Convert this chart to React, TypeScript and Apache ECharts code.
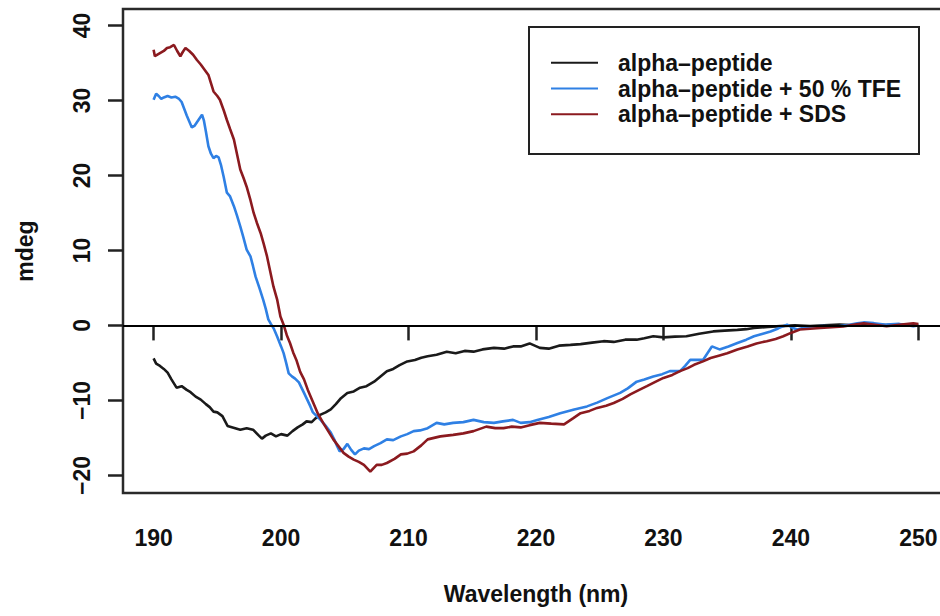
import React, { useEffect, useRef } from "react";
import * as echarts from "echarts";

const seriesNames = ["alpha–peptide", "alpha–peptide + 50 % TFE", "alpha–peptide + SDS"];
const seriesColors = ["#1a1a1a", "#2f80e4", "#8b1a1f"];

const xTicks = [190, 200, 210, 220, 230, 240, 250];
const yTicks = [-20, -10, 0, 10, 20, 30, 40];

const peptide: number[][] = [
  [190.0, -4.4], [190.2, -5.1], [190.5, -5.4], [190.8, -5.8], [191.1, -6.3], [191.4, -7.2], [191.8, -8.3],
  [192.2, -8.1], [192.6, -8.6], [192.9, -8.9], [193.3, -9.5], [193.7, -9.9], [194.1, -10.5], [194.4, -10.9],
  [194.7, -11.5], [195.0, -11.6], [195.4, -12.1], [195.8, -13.4], [196.2, -13.6], [196.8, -13.9], [197.3, -13.7],
  [197.8, -13.9], [198.2, -14.6], [198.5, -15.1], [198.8, -14.7], [199.2, -14.4], [199.6, -14.8], [200.0, -14.5],
  [200.5, -14.7], [200.9, -14.1], [201.3, -13.6], [201.7, -13.2], [202.0, -12.8], [202.4, -12.9], [202.7, -12.4],
  [203.1, -11.9], [203.5, -11.6], [203.9, -11.2], [204.3, -10.5], [204.7, -9.7], [205.2, -9.0], [205.7, -8.8],
  [206.2, -8.3], [206.7, -8.1], [207.3, -7.5], [207.8, -6.8], [208.3, -6.1], [208.8, -5.8], [209.3, -5.3],
  [209.9, -4.8], [210.5, -4.6], [211.0, -4.3], [211.5, -4.1], [212.2, -3.9], [213.0, -3.5], [213.7, -3.7],
  [214.4, -3.4], [215.1, -3.5], [215.8, -3.2], [216.7, -3.0], [217.5, -3.1], [218.2, -2.8], [218.8, -2.8],
  [219.5, -2.4], [220.3, -3.0], [221.0, -3.1], [221.8, -2.7], [222.7, -2.6], [223.5, -2.5], [224.4, -2.3],
  [225.3, -2.1], [226.1, -2.2], [227.0, -1.9], [227.9, -1.9], [228.5, -1.7], [229.2, -1.45], [230.0, -1.6],
  [230.9, -1.5], [231.8, -1.45], [232.8, -1.1], [233.9, -0.8], [234.8, -0.7], [235.8, -0.6], [236.5, -0.5],
  [237.1, -0.35], [238.2, -0.2], [239.2, -0.1], [240.3, 0.0], [241.5, -0.1], [242.6, 0.0], [243.8, 0.1],
  [245.0, 0.0], [246.2, 0.1], [247.4, 0.05], [248.6, 0.1], [249.5, 0.0], [250.0, 0.05],
];

const peptideTFE: number[][] = [
  [190.0, 30.1], [190.2, 30.9], [190.4, 30.6], [190.6, 30.2], [190.8, 30.4], [191.1, 30.6], [191.4, 30.4],
  [191.7, 30.5], [192.0, 30.2], [192.2, 29.8], [192.4, 28.9], [192.6, 28.0], [192.8, 27.2], [193.0, 26.4],
  [193.2, 26.6], [193.4, 27.1], [193.6, 27.6], [193.8, 28.1], [193.95, 27.3], [194.1, 25.9], [194.3, 23.9],
  [194.5, 22.9], [194.7, 22.3], [194.9, 22.6], [195.1, 22.4], [195.3, 21.3], [195.5, 19.8], [195.75, 17.7],
  [196.0, 17.2], [196.3, 15.9], [196.55, 14.6], [196.8, 13.2], [197.05, 11.7], [197.3, 10.1], [197.6, 9.2],
  [197.8, 7.9], [198.0, 6.5], [198.3, 5.0], [198.6, 3.4], [198.8, 2.2], [199.0, 0.8], [199.2, 0.2],
  [199.45, -0.5], [199.7, -1.5], [200.0, -2.8], [200.2, -3.7], [200.4, -5.0], [200.6, -6.4], [200.85, -6.8],
  [201.1, -7.1], [201.4, -7.6], [201.6, -8.3], [201.8, -9.0], [202.05, -9.9], [202.3, -10.8], [202.5, -11.6],
  [202.8, -12.1], [203.1, -12.6], [203.5, -13.4], [203.9, -14.3], [204.2, -15.3], [204.4, -16.1], [204.6, -16.8],
  [204.9, -16.5], [205.2, -15.8], [205.5, -16.6], [205.8, -17.2], [206.1, -16.7], [206.5, -16.4], [206.9, -16.5],
  [207.3, -16.1], [207.8, -15.7], [208.3, -15.2], [208.8, -15.3], [209.4, -14.8], [209.9, -14.5], [210.4, -14.1],
  [210.9, -14.0], [211.5, -13.7], [212.2, -13.0], [212.8, -13.2], [213.5, -13.0], [214.3, -12.9], [215.1, -12.6],
  [215.9, -12.9], [216.7, -13.0], [217.4, -12.8], [218.2, -12.6], [218.8, -13.0], [219.5, -12.9], [220.1, -12.6],
  [221.0, -12.2], [221.9, -11.7], [223.0, -11.2], [224.0, -10.8], [224.8, -10.3], [225.6, -9.7], [226.6, -9.0],
  [227.2, -8.4], [227.9, -7.5], [228.5, -7.2], [229.2, -6.8], [229.9, -6.5], [230.5, -6.1], [231.3, -6.1],
  [231.7, -5.4], [232.1, -4.6], [233.1, -4.6], [233.8, -2.8], [234.4, -3.2], [235.1, -2.8], [235.8, -2.35],
  [236.5, -1.9], [237.1, -1.45], [237.8, -1.1], [238.4, -0.8], [239.0, -0.4], [239.4, -0.1], [239.7, 0.1],
  [240.1, -0.3], [240.5, -0.55], [241.0, -0.3], [241.5, -0.15], [242.5, -0.1], [243.6, -0.15], [244.6, 0.1],
  [245.2, 0.3], [245.7, 0.4], [246.5, 0.3], [247.5, 0.1], [248.5, 0.2], [249.6, -0.1], [250.0, 0.0],
];

const peptideSDS: number[][] = [
  [190.0, 36.75], [190.1, 35.9], [190.3, 36.1], [190.5, 36.3], [190.8, 36.6], [191.05, 37.0], [191.3, 37.1],
  [191.6, 37.4], [191.85, 36.6], [192.1, 35.9], [192.3, 36.5], [192.5, 37.0], [192.8, 36.6], [193.1, 36.1],
  [193.4, 35.4], [193.7, 34.8], [194.0, 34.1], [194.3, 33.4], [194.5, 32.3], [194.7, 31.2], [195.0, 30.6],
  [195.2, 30.1], [195.5, 28.7], [195.75, 27.4], [196.0, 26.2], [196.3, 24.8], [196.55, 22.8], [196.8, 20.8],
  [197.05, 19.7], [197.3, 18.5], [197.6, 16.7], [197.85, 15.0], [198.1, 13.7], [198.4, 12.3], [198.65, 10.8],
  [198.9, 9.2], [199.15, 7.2], [199.4, 5.2], [199.7, 3.4], [199.95, 1.2], [200.2, 0.1], [200.45, -1.3],
  [200.7, -2.35], [200.95, -3.6], [201.2, -4.6], [201.5, -6.2], [201.8, -7.2], [202.1, -8.6], [202.5, -10.2],
  [202.9, -11.8], [203.3, -13.0], [203.7, -14.1], [204.1, -15.2], [204.5, -16.1], [204.9, -17.0], [205.3, -17.5],
  [205.7, -17.9], [206.1, -18.2], [206.5, -18.6], [207.0, -19.5], [207.5, -18.6], [207.9, -18.6], [208.3, -18.35],
  [208.9, -17.8], [209.4, -17.2], [209.9, -17.1], [210.4, -16.8], [211.0, -16.0], [211.5, -15.2], [212.0, -15.0],
  [212.5, -14.8], [213.0, -14.7], [213.5, -14.6], [214.3, -14.4], [215.1, -14.1], [215.6, -13.8], [216.1, -13.5],
  [216.8, -13.7], [217.45, -13.7], [218.1, -13.5], [218.8, -13.6], [219.5, -13.3], [220.3, -13.0], [221.2, -13.1],
  [222.2, -13.2], [222.9, -12.4], [223.5, -11.7], [224.2, -11.4], [224.8, -11.0], [225.5, -10.7], [226.1, -10.35],
  [226.8, -9.8], [227.4, -9.2], [228.1, -8.6], [228.7, -8.1], [229.4, -7.5], [230.0, -7.0], [230.7, -6.6],
  [231.3, -6.1], [231.9, -5.7], [232.4, -5.25], [233.1, -4.8], [233.7, -4.35], [234.4, -4.0], [235.0, -3.7],
  [235.8, -3.2], [236.6, -2.8], [237.3, -2.4], [238.1, -2.1], [238.8, -1.8], [239.4, -1.45], [240.0, -1.0],
  [240.7, -0.55], [241.5, -0.45], [242.3, -0.35], [243.2, -0.25], [244.1, -0.15], [244.9, 0.1], [245.7, 0.3],
  [246.6, 0.1], [247.5, -0.1], [248.5, 0.1], [249.6, 0.3], [250.0, 0.2],
];

const FONT = "'Liberation Sans', Arial, Helvetica, sans-serif";

export default function App() {
  const ref = useRef<HTMLDivElement>(null);
  useEffect(() => {
    if (!ref.current) return;
    const chart = echarts.init(ref.current, undefined, { renderer: "svg" });
    const allData = [peptide, peptideTFE, peptideSDS];
    const legendLeft = 528;
    const legendTop = 26;
    const rowY = [61.7, 87.5, 113.3];
    chart.setOption({
      animation: false,
      backgroundColor: "#ffffff",
      grid: {
        left: 123,
        top: 9,
        width: 826,
        height: 484,
        outerBoundsMode: "none",
        containLabel: false,
        show: true,
        borderColor: "#2a2a2a",
        borderWidth: 2.5,
        backgroundColor: "transparent",
      },
      xAxis: {
        type: "value",
        min: 187.6,
        max: 252.4,
        name: "Wavelength (nm)",
        nameLocation: "middle",
        nameGap: 89,
        nameTextStyle: { fontFamily: FONT, fontSize: 23, fontWeight: "bold", color: "#111" },
        axisLine: { show: false },
        splitLine: { show: false },
        axisTick: {
          show: true,
          customValues: xTicks,
          length: 15,
          lineStyle: { color: "#222", width: 2.5 },
        },
        axisLabel: {
          customValues: xTicks,
          margin: 33,
          fontFamily: FONT,
          fontSize: 23,
          fontWeight: "bold",
          color: "#111",
        },
      },
      yAxis: {
        type: "value",
        min: -22.35,
        max: 42.2,
        name: "mdeg",
        nameLocation: "middle",
        nameGap: 87,
        nameRotate: 90,
        nameTextStyle: { fontFamily: FONT, fontSize: 23, fontWeight: "bold", color: "#111" },
        axisLine: { show: false },
        splitLine: { show: false },
        axisTick: {
          show: true,
          customValues: yTicks,
          length: 15,
          lineStyle: { color: "#222", width: 2.5 },
        },
        axisLabel: {
          customValues: yTicks,
          rotate: 90,
          margin: 30,
          fontFamily: FONT,
          fontSize: 23,
          fontWeight: "bold",
          color: "#111",
          formatter: (v: number) => (v < 0 ? "−" + Math.abs(v) : String(v)),
        },
      },
      series: seriesNames.map((name, i) => ({
        name,
        type: "line",
        data: allData[i],
        showSymbol: false,
        symbol: "none",
        smooth: false,
        lineStyle: { color: seriesColors[i], width: 2.6 },
        itemStyle: { color: seriesColors[i] },
        z: 3 + i,
        markLine:
          i === 0
            ? {
                silent: true,
                symbol: ["none", "none"],
                label: { show: false },
                lineStyle: { color: "#000", width: 2, type: "solid" },
                data: [{ yAxis: 0 }],
                z: 10,
              }
            : undefined,
      })),
      graphic: [
        {
          type: "group",
          left: legendLeft,
          top: legendTop,
          children: [
            {
              type: "rect",
              shape: { x: 0, y: 0, width: 390, height: 127 },
              style: { fill: "#fff", stroke: "#222", lineWidth: 2 },
            },
            ...seriesNames.flatMap((name, i) => [
              {
                type: "line",
                shape: { x1: 22, y1: rowY[i] - legendTop, x2: 69, y2: rowY[i] - legendTop },
                style: { stroke: seriesColors[i], lineWidth: 2 },
              },
              {
                type: "text",
                x: 89,
                y: rowY[i] - legendTop,
                style: {
                  text: name,
                  fontFamily: FONT,
                  fontSize: 23,
                  fontWeight: "bold",
                  fill: "#111",
                  verticalAlign: "middle",
                  align: "left",
                },
              },
            ]),
          ],
          z: 100,
        },
      ],
    });
    return () => chart.dispose();
  }, []);
  return (
    <div
      ref={ref}
      style={{ position: "absolute", left: 0, top: 0, width: 940, height: 616, background: "#fff" }}
    />
  );
}
